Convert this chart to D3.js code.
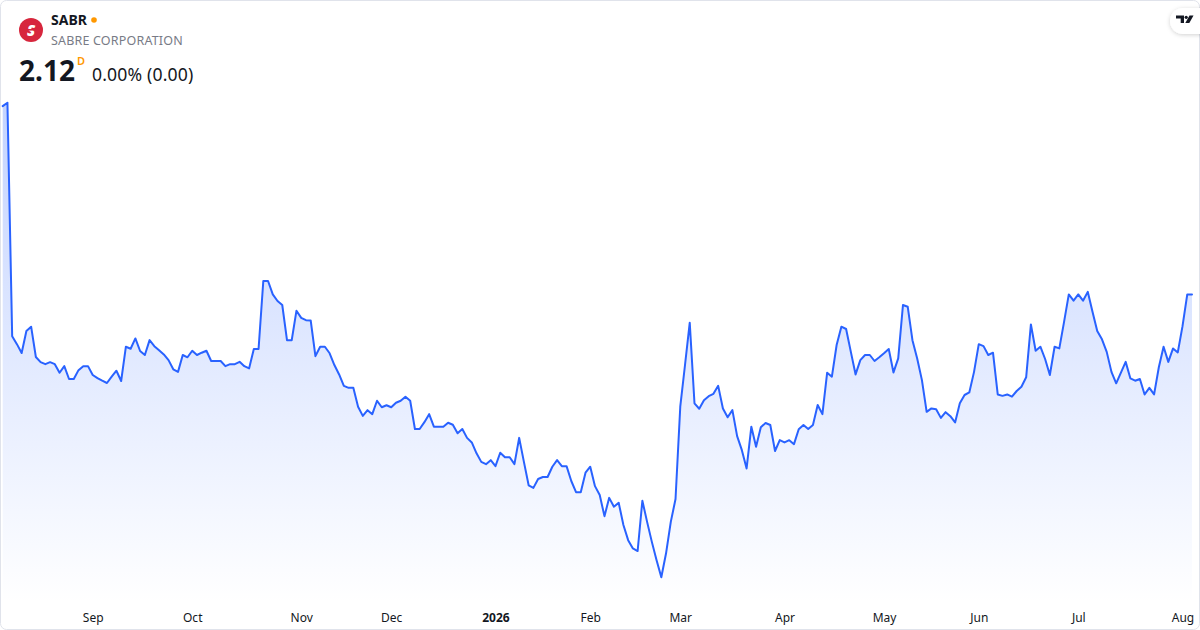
<!DOCTYPE html>
<html><head><meta charset="utf-8">
<script src="https://cdn.jsdelivr.net/npm/d3@7"></script>
<style>
html,body{margin:0;padding:0;background:#fff;}
svg{display:block;font-family:"Noto Sans","Open Sans",Roboto,sans-serif;}
</style></head>
<body>
<div id="chart"></div>
<script>
// ---- data ----
const symbol = "SABR";
const company = "SABRE CORPORATION";
const lastPrice = "2.12";
const changeText = "0.00% (0.00)";
const intervalLabel = "D";

// daily closes, trading-day index 0 = 2025-08-05 ... 251 = 2026-08-05
const prices = [
 2.779,2.791,1.974,1.946,1.915,1.992,2.007,1.901,1.883,1.876,
 1.883,1.876,1.846,1.869,1.824,1.824,1.855,1.869,1.869,1.838,
 1.827,1.818,1.810,1.832,1.853,1.817,1.937,1.930,1.966,1.922,
 1.908,1.960,1.939,1.925,1.910,1.890,1.858,1.849,1.908,1.900,
 1.923,1.908,1.916,1.923,1.887,1.887,1.887,1.869,1.876,1.876,
 1.884,1.869,1.861,1.929,1.929,2.167,2.167,2.120,2.097,2.083,
 1.960,1.960,2.063,2.038,2.030,2.029,1.904,1.937,1.937,1.914,
 1.873,1.840,1.800,1.793,1.793,1.727,1.695,1.715,1.701,1.748,
 1.725,1.732,1.725,1.741,1.748,1.762,1.748,1.649,1.649,1.673,
 1.701,1.657,1.657,1.657,1.671,1.664,1.634,1.649,1.618,1.602,
 1.564,1.534,1.526,1.540,1.519,1.566,1.550,1.550,1.526,1.618,
 1.534,1.452,1.443,1.474,1.481,1.481,1.517,1.540,1.519,1.519,
 1.467,1.428,1.428,1.496,1.517,1.449,1.418,1.344,1.408,1.377,
 1.391,1.313,1.260,1.231,1.222,1.398,1.324,1.254,1.190,1.130,
 1.214,1.324,1.404,1.727,1.873,2.021,1.739,1.720,1.750,1.764,
 1.772,1.800,1.721,1.690,1.715,1.624,1.575,1.511,1.657,1.587,
 1.655,1.670,1.663,1.572,1.610,1.602,1.610,1.596,1.648,1.663,
 1.649,1.663,1.733,1.701,1.846,1.832,1.943,2.007,1.999,1.919,
 1.840,1.890,1.908,1.908,1.887,1.900,1.914,1.929,1.847,1.896,
 2.083,2.077,1.960,1.896,1.820,1.709,1.721,1.718,1.688,1.708,
 1.694,1.672,1.739,1.768,1.777,1.849,1.946,1.939,1.908,1.916,
 1.770,1.765,1.770,1.762,1.782,1.797,1.830,2.015,1.923,1.937,
 1.894,1.838,1.937,1.931,2.024,2.120,2.098,2.120,2.098,2.129,
 2.059,1.992,1.963,1.919,1.849,1.809,1.846,1.884,1.826,1.818,
 1.824,1.770,1.793,1.770,1.865,1.937,1.884,1.931,1.917,2.009,
 2.120,2.120
];

const tickLabels = ["Sep","Oct","Nov","Dec","2026","Feb","Mar","Apr","May","Jun","Jul","Aug"];
const tickIndex  = [19, 40, 63, 82, 104, 124, 143, 165, 186, 206, 227, 249];

// ---- drawing ----
const W = 1200, H = 630;
const svg = d3.select("#chart").append("svg").attr("width", W).attr("height", H);

const defs = svg.append("defs");
const grad = defs.append("linearGradient").attr("id","fillGrad")
  .attr("gradientUnits","userSpaceOnUse").attr("x1",0).attr("x2",0).attr("y1",100).attr("y2",604);
grad.append("stop").attr("offset","0%").attr("stop-color","#2962ff").attr("stop-opacity",0.28);
grad.append("stop").attr("offset","100%").attr("stop-color","#2962ff").attr("stop-opacity",0.0);

const sh = defs.append("filter").attr("id","shadow").attr("x","-50%").attr("y","-50%").attr("width","200%").attr("height","200%");
sh.append("feDropShadow").attr("dx",0).attr("dy",1).attr("stdDeviation",2).attr("flood-color","#000").attr("flood-opacity",0.18);

// widget border
svg.append("rect").attr("x",0.5).attr("y",0.5).attr("width",W-1).attr("height",H-1)
  .attr("rx",6).attr("fill","#fff").attr("stroke","#e0e3eb");

const x = d3.scaleLinear().domain([0, prices.length-1]).range([2.7, 1192]);
const y = d3.scaleLinear().domain(d3.extent(prices)).range([577.3, 102.7]);
const bottom = 604;

svg.append("path").datum(prices)
  .attr("fill","url(#fillGrad)")
  .attr("d", d3.area().x((d,i)=>x(i)).y0(bottom).y1(d=>y(d)));

svg.append("path").datum(prices)
  .attr("fill","none").attr("stroke","#2962ff").attr("stroke-width",2)
  .attr("stroke-linejoin","round").attr("stroke-linecap","round")
  .attr("d", d3.line().x((d,i)=>x(i)).y(d=>y(d)));

// x axis
const axis = d3.axisBottom(x).tickValues(tickIndex)
  .tickFormat((d,i)=>tickLabels[i]).tickSize(0).tickPadding(0);
const ag = svg.append("g").attr("transform","translate(0,613)").call(axis);
ag.select(".domain").remove();
ag.selectAll("text").attr("font-size",12).attr("fill","#131722")
  .attr("font-family",'"Noto Sans","Open Sans",sans-serif')
  .attr("font-weight",(d,i)=>tickLabels[i]==="2026"?700:400);

// header
const hg = svg.append("g");
hg.append("circle").attr("cx",31).attr("cy",30).attr("r",12).attr("fill","#d7263d");
hg.append("text").attr("x",31).attr("y",35.5).attr("text-anchor","middle")
  .attr("font-size",15).attr("font-weight",900).attr("font-style","italic").attr("fill","#fff").text("S");
hg.append("rect").attr("x",22).attr("y",29).attr("width",18).attr("height",1.6).attr("fill","#d7263d");

hg.append("text").attr("x",51).attr("y",25).attr("font-size",14).attr("font-weight",700)
  .attr("fill","#131722").text(symbol);
hg.append("circle").attr("cx",94).attr("cy",20).attr("r",2.8).attr("fill","#ff9800");
hg.append("text").attr("x",51).attr("y",45).attr("font-size",12.5).attr("fill","#787b86")
  .attr("letter-spacing",0.18).text(company);
hg.append("text").attr("x",19).attr("y",81).attr("font-size",28).attr("font-weight",700)
  .attr("fill","#131722").text(lastPrice);
hg.append("text").attr("x",77).attr("y",65).attr("font-size",11).attr("font-weight",600)
  .attr("fill","#ff9800").text(intervalLabel);
hg.append("text").attr("x",92).attr("y",81).attr("font-size",17.6)
  .attr("fill","#131722").attr("letter-spacing",0.15).text(changeText);

// TradingView badge
const tv = svg.append("g");
tv.append("rect").attr("x",1170).attr("y",8).attr("width",44).attr("height",26).attr("rx",13)
  .attr("fill","#fff").attr("filter","url(#shadow)");
tv.append("path").attr("fill","#131722")
  .attr("d","M1176 15.5h8v7.5h-3.3v-4.4h-4.7z");
tv.append("circle").attr("cx",1186.2).attr("cy",17.3).attr("r",1.6).attr("fill","#131722");
tv.append("path").attr("fill","#131722")
  .attr("d","M1189.5 15.5h4l-4.2 7.5h-4z");
</script>
</body></html>
